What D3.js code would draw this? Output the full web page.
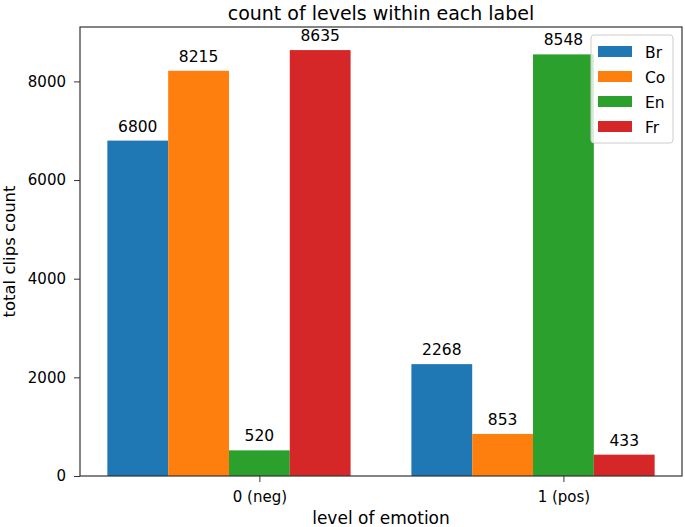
<!DOCTYPE html>
<html>
<head>
<meta charset="utf-8">
<script src="https://cdn.jsdelivr.net/npm/d3@7"></script>
<style>
  body { margin: 0; background: #fff; }
  text { font-family: "DejaVu Sans", sans-serif; fill: #000; }
</style>
</head>
<body>
<div id="chart"></div>
<script>
// data
const categories = ["0 (neg)", "1 (pos)"];
const seriesNames = ["Br", "Co", "En", "Fr"];
const brValues = [6800, 2268];
const coValues = [8215, 853];
const enValues = [520, 8548];
const frValues = [8635, 433];
const yTicks = [0, 2000, 4000, 6000, 8000];

const seriesValues = [brValues, coValues, enValues, frValues];
const colors = ["#1f77b4", "#ff7f0e", "#2ca02c", "#d62728"];

// plot area, in page pixels
const W = 685, H = 527;
const plot = {left: 80, right: 682, top: 27, bottom: 476};
const barW = 0.2;

const svg = d3.select("#chart")
  .append("svg")
    .attr("width", W)
    .attr("height", H);

// x in category units, with the usual 5% margins around the bars
let x = d3.scaleLinear()
    .domain([-0.59, 1.39])
    .range([plot.left, plot.right]);

let y = d3.scaleLinear()
    .domain([0, 9103])
    .range([plot.bottom, plot.top]);

// bars
seriesValues.forEach(function(vals, j) {
  svg.selectAll(".bar" + j)
    .data(vals)
    .enter()
    .append("rect")
      .attr("x", (d, i) => x(i - 0.5 + j * barW))
      .attr("width", x(barW) - x(0))
      .attr("y", d => y(d))
      .attr("height", d => y(0) - y(d))
      .attr("fill", colors[j]);

  // value labels
  svg.selectAll(".lab" + j)
    .data(vals)
    .enter()
    .append("text")
      .attr("x", (d, i) => x(i - 0.4 + j * barW))
      .attr("y", d => y(d) - 9)
      .attr("text-anchor", "middle")
      .style("font-size", "15.5px")
      .text(d => d);
});

// axes
const xAxis = svg.append("g")
  .attr("transform", "translate(0," + plot.bottom + ")")
  .call(d3.axisBottom(x).tickValues([0, 1]).tickFormat(i => categories[i]).tickSize(6).tickPadding(9));

const yAxis = svg.append("g")
  .attr("transform", "translate(" + plot.left + ",0)")
  .call(d3.axisLeft(y).tickValues(yTicks).tickFormat(d3.format("d")).tickSize(6).tickPadding(8));

[xAxis, yAxis].forEach(function(a) {
  a.select(".domain").remove();
  a.selectAll("line").attr("stroke", "#333");
  a.selectAll("text").style("font-size", "15px").attr("fill", "#000");
});

// frame
svg.append("rect")
  .attr("x", plot.left).attr("y", plot.top)
  .attr("width", plot.right - plot.left).attr("height", plot.bottom - plot.top)
  .attr("fill", "none")
  .attr("stroke", "#333")
  .attr("stroke-width", 1.2);

// titles
svg.append("text")
  .attr("x", (plot.left + plot.right) / 2).attr("y", 20)
  .attr("text-anchor", "middle")
  .style("font-size", "19px")
  .text("count of levels within each label");

svg.append("text")
  .attr("x", (plot.left + plot.right) / 2).attr("y", 524)
  .attr("text-anchor", "middle")
  .style("font-size", "17px")
  .text("level of emotion");

svg.append("text")
  .attr("transform", "translate(15," + ((plot.top + plot.bottom) / 2) + ")rotate(-90)")
  .attr("text-anchor", "middle")
  .style("font-size", "16.5px")
  .text("total clips count");

// legend
const legend = svg.append("g").attr("transform", "translate(591,35)");
legend.append("rect")
  .attr("width", 82).attr("height", 108)
  .attr("rx", 3)
  .attr("fill", "#fff").attr("fill-opacity", 0.8)
  .attr("stroke", "#ccc");

seriesNames.forEach(function(name, j) {
  legend.append("rect")
    .attr("x", 7).attr("y", 11 + j * 25)
    .attr("width", 34).attr("height", 11)
    .attr("fill", colors[j]);
  legend.append("text")
    .attr("x", 54).attr("y", 22.5 + j * 25)
    .style("font-size", "15.5px")
    .text(name);
});
</script>
</body>
</html>
